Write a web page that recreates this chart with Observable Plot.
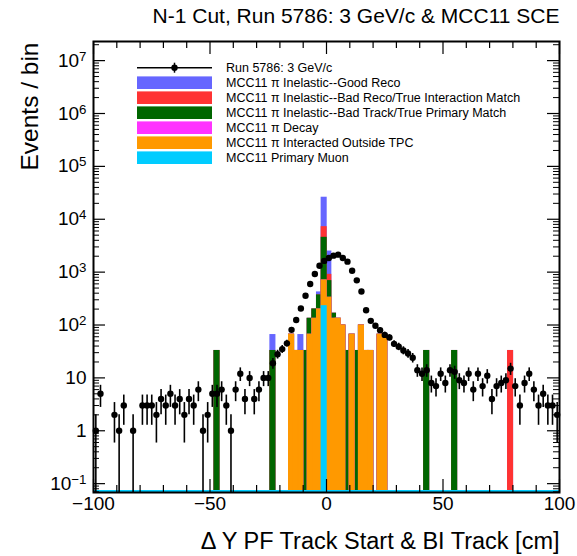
<!DOCTYPE html>
<html><head><meta charset="utf-8">
<script src="https://cdn.jsdelivr.net/npm/d3@7"></script>
<script src="https://cdn.jsdelivr.net/npm/@observablehq/plot@0.6"></script>
<style>
body{margin:0;background:#fff;}
#chart{width:577px;height:556px;}
</style></head><body><div id="chart"></div>
<script>
// ---------------- data ----------------
const title = "N-1 Cut, Run 5786: 3 GeV/c & MCC11 SCE";
const xLabel = "\u0394 Y PF Track Start & BI Track [cm]";
const yLabel = "Events / bin";
const xDomain = [-100, 100];
const yDomain = [0.068, 2.3e7];
const binWidth = 2;
const binCenters = d3.range(-99, 100, binWidth);
// data counts per 2 cm bin, from -100 to 100
const dataCounts = [
  1, 5, 0, 0, 2, 1, 3, 0, 1, 0,
  3, 3, 3, 2, 4, 3, 5, 3, 4, 2,
  4, 3, 6, 1, 2, 5, 5, 6, 3, 1,
  6, 12, 4, 10, 4, 6, 10, 10, 19, 28,
  35, 45, 81, 124, 205, 358, 596, 920, 1320, 1630,
  1850, 2050, 2140, 1850, 1580, 1060, 700, 430, 190, 120,
  97, 80, 65, 58, 44, 39, 33, 29, 24, 14,
  12, 14, 8, 7, 12, 8, 14, 13, 9, 8,
  12, 6, 12, 7, 11, 4, 7, 8, 9, 15,
  7, 3, 8, 12, 6, 3, 5, 3, 3, 2
];
// MC stack (bins with non-zero content)
const mcX         = [-47, -23, -15, -13, -11,  -9,  -7,  -5,  -3,    -1,    1,   3,   5,  7,  9, 11, 13, 15, 17, 19, 23, 25, 43, 55, 79];
const primaryMuon = [  0,   0,   0,   0,   0,   0,   0,   0,   0,   225,    0,   0,   0,  0,  0,  0,  0,  0,  0,  0,  0,  0,  0,  0,  0];
const outsideTPC  = [  0,   0,  65,  32,  32,   0,  65, 130, 195,   465,  325, 130, 130, 97,  0, 65,  0, 97, 32, 32, 65, 65,  0,  0,  0];
const piDecay     = [  0,   0,   0,   0,   0,   0,   0,   0,   0,     0,    0,   0,   0,  0,  0,  0,  0,  0,  0,  0,  0,  0,  0,  0,  0];
const badTrack    = [ 32,  32,   0,   0,   0,  32,  65,  65, 165,  3730,  345,  32,   0,  0, 32,  0, 32,  0,  0,  0,  0,  0, 32, 32,  0];
const badReco     = [  0,   0,   0,   0,   0,   0,   0,   0,   0,  2600,  210,   0,   0,  0,  0,  0,  0,  0,  0,  0,  0,  0,  0,  0, 32];
const goodReco    = [  0,  32,   0,   0,  32,   0,   0,   0,  50, 18300, 1550,   0,   0,  0,  0,  0,  0,  0,  0,  0,  0,  0,  0,  0,  0];
const legendLabels = [
  "Run 5786: 3 GeV/c",
  "MCC11 \u03c0 Inelastic--Good Reco",
  "MCC11 \u03c0 Inelastic--Bad Reco/True Interaction Match",
  "MCC11 \u03c0 Inelastic--Bad Track/True Primary Match",
  "MCC11 \u03c0 Decay",
  "MCC11 \u03c0 Interacted Outside TPC",
  "MCC11 Primary Muon"
];
const xTickLabels = [-100, -50, 0, 50, 100];
const xMinorTicks = [-90, -80, -70, -60, -40, -30, -20, -10, 10, 20, 30, 40, 60, 70, 80, 90];
const yTickLabels = [0.1, 1, 10, 100, 1e3, 1e4, 1e5, 1e6, 1e7];

// ---------------- styles ----------------
const colors = {
  good: "#6666ff", badReco: "#ff3333", badTrack: "#006600",
  decay: "#ff33ff", outside: "#ff9900", muon: "#00ccff"
};
const W = 577, H = 556, mT = 41, mB = 64, mL = 93, mR = 18;
const frameW = W - mL - mR, frameH = H - mT - mB;
const font = "'Liberation Sans', Arial, Helvetica, sans-serif";

// stack order (bottom -> top)
const layers = [
  {values: primaryMuon, color: colors.muon},
  {values: outsideTPC, color: colors.outside},
  {values: piDecay, color: colors.decay},
  {values: badTrack, color: colors.badTrack},
  {values: badReco, color: colors.badReco},
  {values: goodReco, color: colors.good}
];
// cumulative histograms, drawn from the top of the stack downward (as THStack does)
const rects = [];
for (let l = layers.length - 1; l >= 0; l--) {
  mcX.forEach((x, i) => {
    let cum = 0;
    for (let k = 0; k <= l; k++) cum += layers[k].values[i];
    if (cum > 0) rects.push({x1: x - binWidth / 2, x2: x + binWidth / 2, y1: yDomain[0], y2: cum, color: layers[l].color});
  });
}
const points = binCenters.map((x, i) => ({x, v: dataCounts[i]})).filter(d => d.v > 0)
  .map(d => ({...d, lo: Math.max(d.v - Math.sqrt(d.v), yDomain[0]), hi: d.v + Math.sqrt(d.v)}));

// minor log ticks
const yMinor = [];
for (let e = -2; e <= 7; e++) for (let k = 2; k <= 9; k++) {
  const v = k * Math.pow(10, e);
  if (v > yDomain[0] && v < yDomain[1]) yMinor.push(v);
}

const fmtX = d => d < 0 ? "\u2212" + Math.abs(d) : String(d);
const fmtY = d => {
  const e = Math.round(Math.log10(d));
  if (e === 0) return "1";
  if (e === 1) return "10";
  return "10^" + (e < 0 ? "\u2212" + (-e) : e);
};

const plot = Plot.plot({
  width: W, height: H, marginTop: mT, marginBottom: mB, marginLeft: mL, marginRight: mR,
  style: {fontFamily: font, background: "white", color: "black"},
  x: {domain: xDomain, axis: null},
  y: {type: "log", domain: yDomain, axis: null},
  color: {type: "identity"},
  marks: [
    Plot.rect(rects, {x1: "x1", x2: "x2", y1: "y1", y2: "y2", fill: "color", stroke: "color", strokeWidth: 1.4}),
    Plot.ruleY([yDomain[0]], {stroke: colors.muon, strokeWidth: 2, dy: -1.5}),
    Plot.ruleX(points, {x: "x", y1: "lo", y2: "hi", stroke: "black", strokeWidth: 1.6}),
    Plot.dot(points, {x: "x", y: "v", r: 3.2, fill: "black", stroke: "none"}),
    // ticks (inward, all four sides)
    Plot.ruleX(xTickLabels, {stroke: "black", strokeWidth: 1.2, insetTop: frameH - 13}),
    Plot.ruleX(xTickLabels, {stroke: "black", strokeWidth: 1.2, insetBottom: frameH - 13}),
    Plot.ruleX(xMinorTicks, {stroke: "black", strokeWidth: 1.2, insetTop: frameH - 7}),
    Plot.ruleX(xMinorTicks, {stroke: "black", strokeWidth: 1.2, insetBottom: frameH - 7}),
    Plot.ruleY(yTickLabels, {stroke: "black", strokeWidth: 1.2, insetRight: frameW - 12}),
    Plot.ruleY(yTickLabels, {stroke: "black", strokeWidth: 1.2, insetLeft: frameW - 12}),
    Plot.ruleY(yMinor, {stroke: "black", strokeWidth: 1, insetRight: frameW - 6}),
    Plot.ruleY(yMinor, {stroke: "black", strokeWidth: 1, insetLeft: frameW - 6}),
    Plot.frame({stroke: "black", strokeWidth: 2}),
    Plot.axisX(xTickLabels, {tickSize: 0, tickPadding: 4, fontSize: 19, tickFormat: fmtX, label: null}),
    Plot.axisY(yTickLabels, {tickSize: 0, tickPadding: 7, fontSize: 19, tickFormat: fmtY, label: null}),
    Plot.text([xLabel], {frameAnchor: "bottom-right", dy: 49, fontSize: 23.5, textAnchor: "end", lineAnchor: "middle"}),
    Plot.text([yLabel], {frameAnchor: "top-left", dx: -63, dy: 1, rotate: -90, fontSize: 24.5, textAnchor: "end", lineAnchor: "middle"}),
    Plot.text([title], {frameAnchor: "top-right", dy: -25, fontSize: 21, textAnchor: "end", lineAnchor: "middle"})
  ]
});
document.getElementById("chart").appendChild(plot);

// superscripts on log axis labels
d3.select(plot).selectAll('g[aria-label="y-axis tick label"] text').each(function() {
  const t = this.textContent;
  if (t.includes("^")) {
    const [base, exp] = t.split("^");
    const sel = d3.select(this);
    sel.text(base);
    sel.append("tspan").attr("dy", "-0.45em").attr("font-size", "70%").text(exp);
  }
});

// legend
const svg = d3.select(plot);
const lg = svg.append("g").attr("font-family", font).attr("font-size", 12.5).attr("text-anchor", "start");
const rowY0 = 67.7, rowDy = 15, sx0 = 137, sx1 = 212, tx = 226;
const legendColors = [null, colors.good, colors.badReco, colors.badTrack, colors.decay, colors.outside, colors.muon];
legendLabels.forEach((lab, i) => {
  const y = rowY0 + i * rowDy;
  if (i === 0) {
    lg.append("line").attr("x1", sx0).attr("x2", sx1).attr("y1", y).attr("y2", y).attr("stroke", "black").attr("stroke-width", 1.5);
    lg.append("line").attr("x1", (sx0 + sx1) / 2).attr("x2", (sx0 + sx1) / 2).attr("y1", y - 5).attr("y2", y + 5).attr("stroke", "black").attr("stroke-width", 1.5);
    lg.append("circle").attr("cx", (sx0 + sx1) / 2).attr("cy", y).attr("r", 3.2).attr("fill", "black");
  } else {
    lg.append("rect").attr("x", sx0).attr("y", y - 6.3).attr("width", sx1 - sx0).attr("height", 12.6).attr("fill", legendColors[i]);
  }
  lg.append("text").attr("x", tx).attr("y", y).attr("dy", "0.35em").attr("text-anchor", "start").text(lab);
});
</script></body></html>
